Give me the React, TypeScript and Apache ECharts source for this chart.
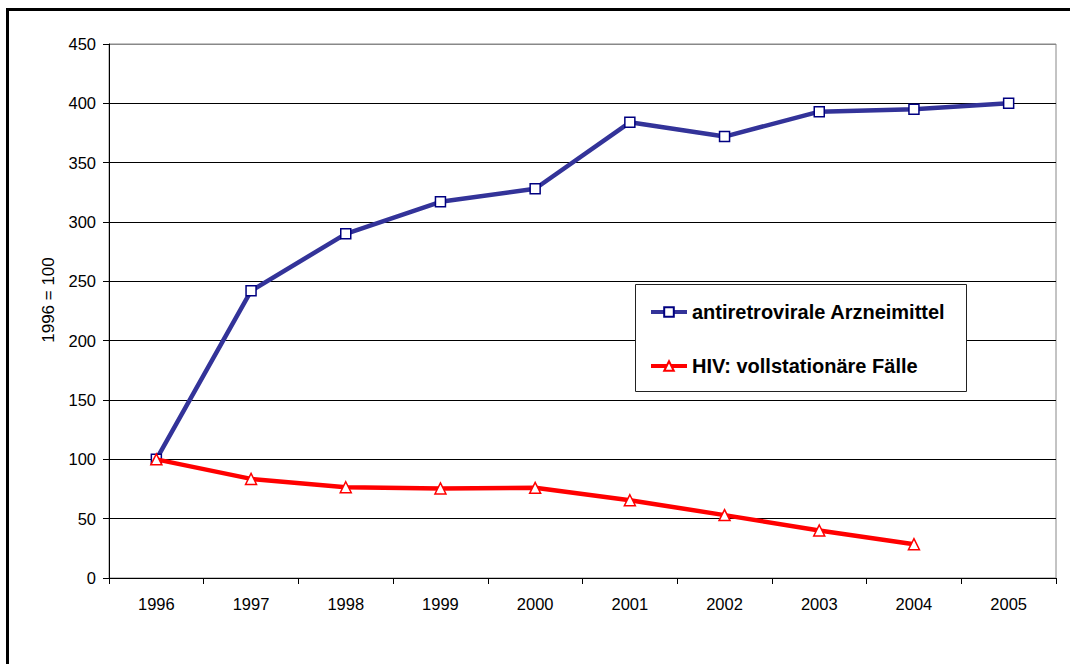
import React, { useEffect, useRef } from "react";
import * as echarts from "echarts";

const years = ["1996", "1997", "1998", "1999", "2000", "2001", "2002", "2003", "2004", "2005"];
const arzneimittel = [100, 242, 290, 317, 328, 384, 372, 393, 395, 400];
const hivFaelle = [100, 83.5, 76.5, 75.5, 76, 65.5, 53, 40, 28.5];
const seriesNames = ["antiretrovirale Arzneimittel", "HIV: vollstationäre Fälle"];
const yAxisName = "1996 = 100";

export default function App() {
  const ref = useRef<HTMLDivElement>(null);
  useEffect(() => {
    if (!ref.current) return;
    const chart = echarts.init(ref.current, null, { renderer: "svg" });
    const font = "Liberation Sans, Arial, sans-serif";
    chart.setOption({
      animation: false,
      backgroundColor: "#fff",
      textStyle: { fontFamily: font },
      graphic: [
        {
          type: "rect",
          shape: { x: 7.5, y: 9.5, width: 1100, height: 700 },
          style: { fill: "none", stroke: "#000", lineWidth: 3 },
          z: 100,
          silent: true,
        },
        {
          type: "rect",
          shape: { x: 635.5, y: 284.5, width: 331, height: 107 },
          style: { fill: "#fff", stroke: "#222", lineWidth: 1 },
          z: 5,
          silent: true,
        },
        {
          type: "text",
          x: 48,
          y: 300,
          rotation: Math.PI / 2,
          style: {
            text: yAxisName,
            fontSize: 17,
            fontFamily: font,
            fill: "#000",
            align: "center",
            verticalAlign: "middle",
          },
          z: 5,
        },
      ],
      grid: {
        left: 109,
        top: 44,
        right: 14,
        bottom: 86,
        show: true,
        borderColor: "#888",
        borderWidth: 1,
        backgroundColor: "transparent",
      },
      legend: {
        orient: "vertical",
        left: 649,
        top: 302,
        padding: 0,
        itemGap: 34,
        itemWidth: 36,
        itemHeight: 12,
        z: 20,
        lineStyle: { width: 4 },
        textStyle: { fontFamily: font, fontSize: 20, fontWeight: "bold", color: "#000" },
        data: seriesNames,
      },
      xAxis: {
        type: "category",
        data: years,
        boundaryGap: true,
        axisLine: { lineStyle: { color: "#000", width: 1 } },
        axisTick: { show: true, length: 6, lineStyle: { color: "#000" } },
        axisLabel: { color: "#000", fontSize: 16.5, fontFamily: font, margin: 17 },
        splitLine: { show: false },
      },
      yAxis: {
        type: "value",
        min: 0,
        max: 450,
        interval: 50,
        axisLine: { show: true, lineStyle: { color: "#000", width: 1 } },
        axisTick: { show: true, length: 6, lineStyle: { color: "#000" } },
        axisLabel: { color: "#000", fontSize: 16.5, fontFamily: font, margin: 13 },
        splitLine: {
          show: true,
          lineStyle: {
            color: ["#000", "#000", "#000", "#000", "#000", "#000", "#000", "#000", "#000", "#888"],
            width: 1,
          },
        },
      },
      series: [
        {
          name: seriesNames[0],
          type: "line",
          data: arzneimittel,
          symbol: "rect",
          symbolSize: 10,
          lineStyle: { color: "#333399", width: 4.5 },
          itemStyle: { color: "#fff", borderColor: "#000080", borderWidth: 1.5 },
          z: 3,
        },
        {
          name: seriesNames[1],
          type: "line",
          data: hivFaelle,
          symbol: "triangle",
          symbolSize: 11,
          lineStyle: { color: "#ff0000", width: 4.5 },
          itemStyle: { color: "#fff", borderColor: "#ff0000", borderWidth: 1.5 },
          z: 4,
        },
      ],
    });
    return () => chart.dispose();
  }, []);
  return (
    <div
      ref={ref}
      style={{ position: "fixed", left: 0, top: 0, width: 1070, height: 664, background: "#fff" }}
    />
  );
}
